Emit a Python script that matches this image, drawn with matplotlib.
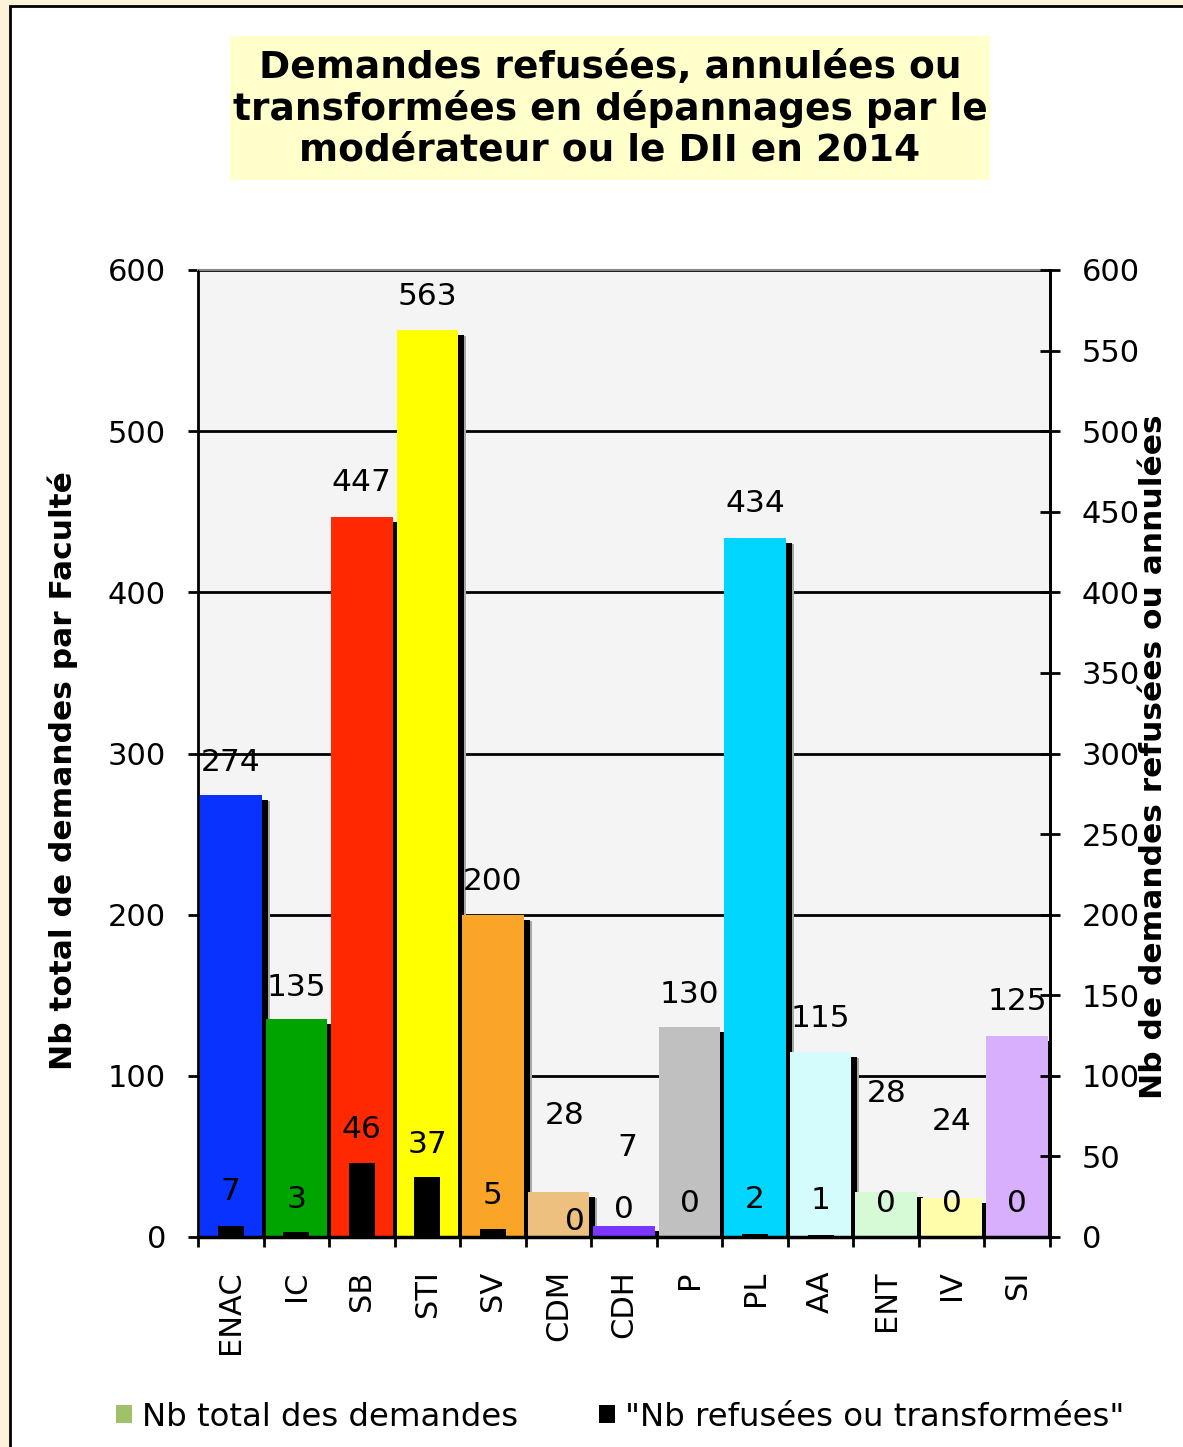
import numpy as np
import matplotlib.pyplot as plt
from matplotlib.patches import Rectangle, Patch

# data
facultes = ['ENAC', 'IC', 'SB', 'STI', 'SV', 'CDM', 'CDH', 'P', 'PL', 'AA', 'ENT', 'IV', 'SI']
total_demandes = [274, 135, 447, 563, 200, 28, 7, 130, 434, 115, 28, 24, 125]
refusees = [7, 3, 46, 37, 5, 0, 0, 0, 2, 1, 0, 0, 0]

couleurs = ['#0a32ff', '#00a400', '#ff2800', '#ffff00', '#faa528', '#edc07f', '#7b36ff',
            '#c0c0c0', '#00d6ff', '#d4fcfc', '#d6fad6', '#fffcaa', '#d7affc']

# label placement (pixels above bar top, horizontal shift in pixels)
off_total = [33, 32, 34, 33, 33, 76, 78, 33, 34, 33, 98, 77, 34]
dx_total = [0, 0, 0, 0, 0, 6, 3, 0, 0, 0, 0, 0, 0]
off_ref = [34, 33, 33, 33, 33, 15, 27, 33, 34, 35, 33, 33, 33]
dx_ref = [0, 0, 0, 0, 0, 16, 0, 0, 0, 0, 0, 0, 0]

W, H = 1183, 1447
fig = plt.figure(figsize=(W / 100, H / 100), dpi=100, facecolor='#fdf2da')

# white panel with black border
fig.patches.append(Rectangle((10 / W, -0.02), 1.2, 1.02 - 6 / H, transform=fig.transFigure,
                             facecolor='white', edgecolor='black', linewidth=2, zorder=-2))
# title box
fig.patches.append(Rectangle((230 / W, 1 - 180 / H), 760 / W, 144 / H, transform=fig.transFigure,
                             facecolor='#ffffcc', edgecolor='none', zorder=-1))
fig.text(610 / W, 1 - 109 / H,
         'Demandes refusées, annulées ou\ntransformées en dépannages par le\nmodérateur ou le DII en 2014',
         ha='center', va='center', fontsize=27, fontweight='bold', linespacing=1.15)

ax = fig.add_axes([198 / W, 1 - 1237 / H, 852 / W, 967 / H])
ax.set_facecolor('#f4f4f4')
x = np.arange(len(facultes))
px = 600 / 967  # data units per pixel

# drop shadows, then bars
ax.bar(x + 8 / 65.5, total_demandes, width=0.94, bottom=-6 * px, color='#a8a8a8', zorder=1.9)
ax.bar(x + 6 / 65.5, total_demandes, width=0.94, bottom=-5 * px, color='black', zorder=2)
ax.bar(x, total_demandes, width=0.94, color=couleurs, zorder=2.2)
ax.bar(x, refusees, width=0.4, color='black', zorder=2.4)

for i in range(len(facultes)):
    ax.annotate(str(total_demandes[i]), (x[i], total_demandes[i]),
                xytext=(dx_total[i] * 0.72, off_total[i] * 0.72), textcoords='offset points',
                ha='center', va='center', fontsize=22.5, zorder=5)
    ax.annotate(str(refusees[i]), (x[i], refusees[i]),
                xytext=(dx_ref[i] * 0.72, off_ref[i] * 0.72), textcoords='offset points',
                ha='center', va='center', fontsize=22.5, zorder=5)

ax.set_xlim(-0.5, len(facultes) - 0.5)
ax.set_ylim(0, 600)
ax.set_yticks(range(0, 601, 100))
ax.yaxis.grid(True, color='black', linewidth=2)
ax.set_xticks(x)
ax.set_xticklabels(facultes, rotation=90, va='top')
ax.set_xticks(np.arange(-0.5, len(facultes)), minor=True)
ax.tick_params(axis='x', which='major', length=0, labelsize=22, pad=24)
ax.tick_params(axis='x', which='minor', length=7, width=2, direction='out')
ax.tick_params(axis='y', length=7, width=2, direction='out', labelsize=22, pad=16)

for s in ['left', 'right']:
    ax.spines[s].set_linewidth(2)
ax.spines['bottom'].set_linewidth(2.5)
ax.spines['top'].set_color('#888888')
ax.spines['top'].set_linewidth(1.5)

ax2 = ax.twinx()
ax2.set_ylim(0, 600)
ax2.set_yticks(range(0, 601, 50))
ax2.tick_params(axis='y', direction='inout', length=14, width=2, labelsize=22, pad=16)
ax2.spines['right'].set_linewidth(2)
ax2.spines['top'].set_visible(False)

fig.text(63 / W, 1 - 771 / H, 'Nb total de demandes par Faculté', rotation=90,
         ha='center', va='center', fontsize=22.5, fontweight='bold')
fig.text(1153 / W, 1 - 757 / H, 'Nb de demandes refusées ou annulées', rotation=90,
         ha='center', va='center', fontsize=22.5, fontweight='bold')

handles = [Patch(facecolor='#9fc16a'), Patch(facecolor='black')]
fig.legend(handles, ['Nb total des demandes', '"Nb refusées ou transformées"'],
           loc='center', bbox_to_anchor=(620 / W, 1 - 1417 / H), ncol=2, frameon=False,
           fontsize=23.3, handlelength=0.5, handleheight=0.5, handletextpad=0.3,
           columnspacing=2.5, borderpad=0)

fig.savefig('out.png', dpi=100, facecolor=fig.get_facecolor())
